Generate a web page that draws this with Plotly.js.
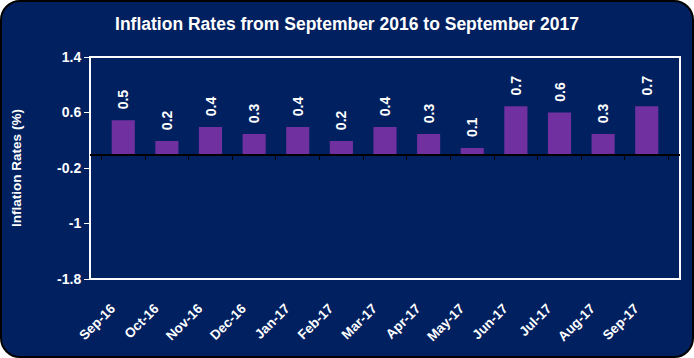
<!DOCTYPE html>
<html>
<head>
<meta charset="utf-8">
<script src="https://cdn.plot.ly/plotly-3.0.1.min.js"></script>
<style>
html,body{margin:0;padding:0;background:#ffffff;}
#wrap{position:absolute;left:0;top:0;width:690px;height:354px;border:2px solid #000;border-radius:20px;background:#002060;overflow:hidden;}
#chart{position:absolute;left:-2px;top:-2px;width:694px;height:358px;}
</style>
</head>
<body>
<div id="wrap"><div id="chart"></div></div>
<script>
const months = ["Sep-16","Oct-16","Nov-16","Dec-16","Jan-17","Feb-17","Mar-17","Apr-17","May-17","Jun-17","Jul-17","Aug-17","Sep-17"];
const inflation = [0.49,0.19,0.39,0.29,0.39,0.19,0.39,0.29,0.09,0.69,0.60,0.29,0.69];
const yTicks = [-1.8,-1,-0.2,0.6,1.4];
const yTickText = ["-1.8","-1","-0.2","0.6","1.4"];

const font = "Liberation Sans, Arial, sans-serif";
const traces = [
  {
    type: "bar",
    x: months,
    y: inflation,
    marker: {color: "#7030A0"},
    texttemplate: "\u00a0\u00a0%{y:.1f}",
    textposition: "outside",
    textangle: -90,
    constraintext: "none",
    textfont: {color: "#ffffff", size: 14, family: font, weight: "bold"},
    cliponaxis: false,
    hoverinfo: "x+y"
  },
  {
    type: "scatter",
    x: months,
    y: inflation.map(() => null),
    xaxis: "x2",
    yaxis: "y",
    showlegend: false,
    hoverinfo: "skip"
  }
];

const layout = {
  width: 694,
  height: 358,
  margin: {l: 90, r: 14, t: 57, b: 79},
  paper_bgcolor: "rgba(0,0,0,0)",
  plot_bgcolor: "rgba(0,0,0,0)",
  showlegend: false,
  bargap: 0.47,
  title: {
    text: "<b>Inflation Rates from September 2016 to September 2017</b>",
    font: {family: font, size: 17.5, color: "#ffffff"},
    x: 0.5, xanchor: "center", y: 0.932, yanchor: "middle"
  },
  xaxis: {
    type: "category",
    showline: false,
    ticks: "",
    showgrid: false,
    zeroline: false,
    tickangle: -45,
    ticklabelstandoff: 18,
    ticklabelshift: -12,
    tickfont: {family: font, size: 13.5, color: "#ffffff", weight: "bold"}
  },
  xaxis2: {
    type: "category",
    overlaying: "x",
    matches: "x",
    anchor: "free",
    position: 0.5625,
    side: "bottom",
    showline: true,
    linecolor: "#000000",
    linewidth: 1.5,
    ticks: "outside",
    tickson: "boundaries",
    ticklen: 4,
    tickcolor: "#000000",
    tickwidth: 1,
    showticklabels: false,
    showgrid: false,
    zeroline: false
  },
  yaxis: {
    range: [-1.8, 1.4],
    tickvals: yTicks,
    ticktext: yTickText,
    showgrid: false,
    zeroline: false,
    showline: false,
    ticks: "outside",
    ticklen: 5,
    tickcolor: "#ffffff",
    tickfont: {family: font, size: 14, color: "#ffffff", weight: "bold"},
    title: {
      text: "<b>Inflation Rates (%)</b>",
      font: {family: font, size: 13.5, color: "#ffffff"},
      standoff: 32
    }
  },
  shapes: [
    {type: "rect", xref: "paper", yref: "paper", x0: 0, x1: 1, y0: 0, y1: 1,
     line: {color: "#ffffff", width: 2}, fillcolor: "rgba(0,0,0,0)", layer: "below"}
  ]
};

Plotly.newPlot("chart", traces, layout, {displayModeBar: false, staticPlot: true});
</script>
</body>
</html>
